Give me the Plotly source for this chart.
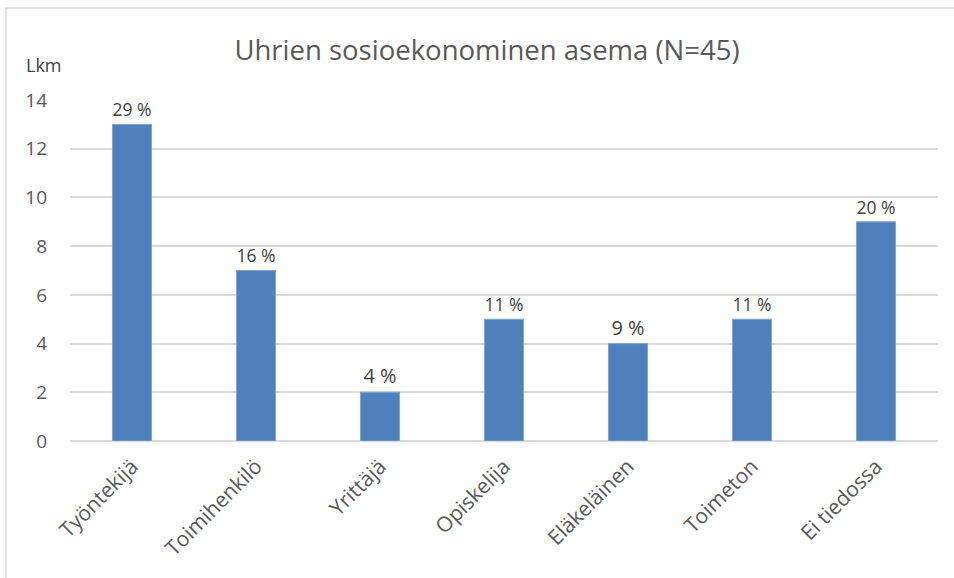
import plotly.graph_objects as go

categories = ["Työntekijä", "Toimihenkilö", "Yrittäjä", "Opiskelija", "Eläkeläinen", "Toimeton", "Ei tiedossa"]
counts = [13, 7, 2, 5, 4, 5, 9]
pct_labels = ["29 %", "16 %", "4 %", "11 %", "9 %", "11 %", "20 %"]
y_ticks = [0, 2, 4, 6, 8, 10, 12, 14]

FONT = "Open Sans, Liberation Sans, sans-serif"
GREY = "#595959"

W, H = 954, 578
L, T, R, B = 70, 100, 16, 137
PW = W - L - R
PH = H - T - B

def px_x(x):  # window px -> paper x
    return (x - L) / PW

def px_y(y):  # window px -> paper y
    return (H - B - y) / PH

fig = go.Figure(go.Bar(
    x=categories, y=counts, text=pct_labels, textposition="outside",
    textfont=dict(size=20, color="#404040", family=FONT),
    marker=dict(color="#4F81BD", line=dict(color="#7FA3D3", width=1)),
    width=0.315, cliponaxis=False, hoverinfo="skip",
))

fig.update_layout(
    width=W, height=H,
    margin=dict(l=L, r=R, t=T, b=B),
    paper_bgcolor="white", plot_bgcolor="white",
    showlegend=False,
    title=dict(text="Uhrien sosioekonominen asema (N=45)", x=487 / W, xanchor="center",
               y=1 - 50 / H, yanchor="middle",
               font=dict(size=27.5, color=GREY, family=FONT)),
    font=dict(family=FONT, color=GREY, size=19),
    xaxis=dict(tickangle=-45, showgrid=False, showline=False, ticks="",
               ticklabelstandoff=8, tickfont=dict(size=21, color=GREY)),
    yaxis=dict(range=[0, 14], tickvals=y_ticks, showgrid=True, gridcolor="#D9D9D9",
               gridwidth=1.5, zeroline=True, zerolinecolor="#D9D9D9", zerolinewidth=1.5,
               ticks="", ticklabelstandoff=22, tickfont=dict(size=19, color=GREY)),
    annotations=[dict(text="Lkm", xref="paper", yref="paper", x=px_x(24), y=px_y(65),
                      xanchor="left", yanchor="middle", showarrow=False,
                      font=dict(size=18, color="#404040", family=FONT))],
    shapes=[dict(type="rect", xref="paper", yref="paper",
                 x0=px_x(6), x1=px_x(975),
                 y0=px_y(600), y1=px_y(8),
                 line=dict(color="#D9D9D9", width=1.5), fillcolor="rgba(0,0,0,0)",
                 layer="below")],
)

fig.write_html("out.html", config={"displayModeBar": False},
               post_script="document.body.style.margin='0';document.body.style.overflow='hidden';")
